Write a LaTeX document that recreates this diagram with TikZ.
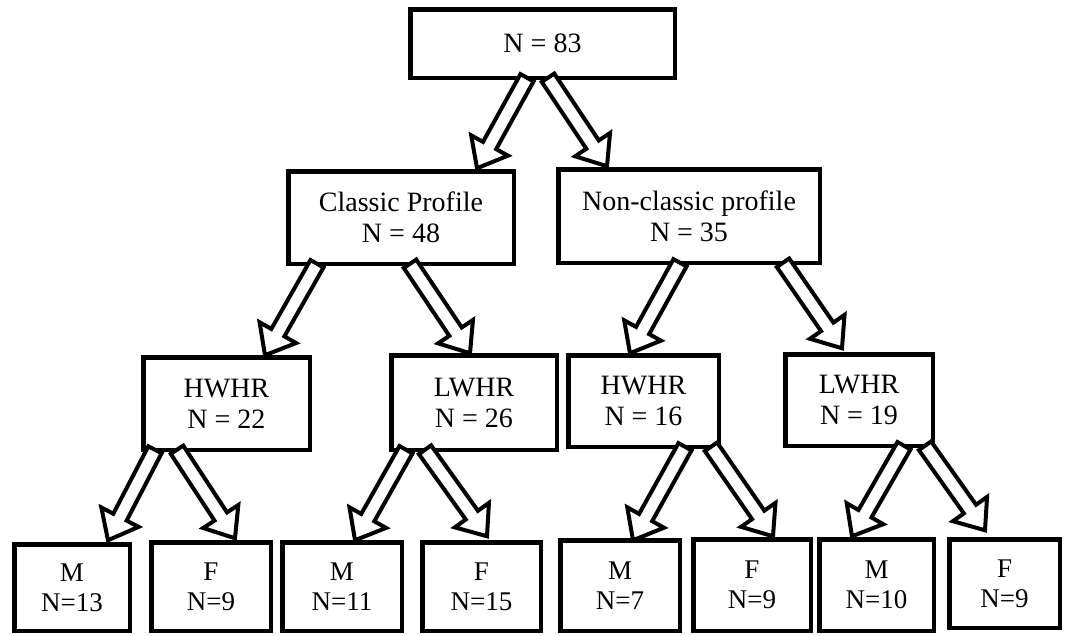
\documentclass[tikz,border=0pt]{standalone}
\usepackage{fontspec}
\setmainfont{Liberation Serif}
\usetikzlibrary{calc}
\tikzset{
  box/.style={draw, line width=4.5pt, rectangle, align=center, inner sep=0pt, outer sep=0pt,
    font=\fontsize{28}{31}\selectfont},
  leaf/.style={box, font=\fontsize{27}{30}\selectfont},
  blockarr/.style={draw, fill=white, line width=4pt, line join=miter},
}
\newcommand\blockarrow[2]{%
  \path[blockarr] let \p1=(#1), \p2=(#2), \n1={atan2(\y2-\y1,\x2-\x1)} in
    ($(\p1)+(\n1+90:7.5pt)$)
    -- ($(\p2)+(\n1+180:26pt)+(\n1+90:7.5pt)$)
    -- ($(\p2)+(\n1+180:26pt)+(\n1+90:21pt)$)
    -- (\p2)
    -- ($(\p2)+(\n1+180:26pt)+(\n1-90:21pt)$)
    -- ($(\p2)+(\n1+180:26pt)+(\n1-90:7.5pt)$)
    -- ($(\p1)+(\n1-90:7.5pt)$) -- cycle;}
\begin{document}
\begin{tikzpicture}[x=1pt,y=-1pt]
\useasboundingbox (0,0) rectangle (1069,635);
% level 0
\node[box, minimum width=264.5, minimum height=68.5] (top) at (542.5,43.5) {N = 83};
% level 1
\node[box, minimum width=225.5, minimum height=92.5] (classic) at (401,217.5) {Classic Profile\\N = 48};
\node[box, minimum width=261.5, minimum height=93.5] (nonc) at (689,216) {Non-classic profile\\N = 35};
% level 2
\node[box, minimum width=166.5, minimum height=92.5] (hwl) at (226.5,403.5) {HWHR\\N = 22};
\node[box, minimum width=165.5, minimum height=94.5] (lwl) at (474,402.5) {LWHR\\N = 26};
\node[box, minimum width=150.5, minimum height=91.5] (hwr) at (643.5,401) {HWHR\\N = 16};
\node[box, minimum width=147.5, minimum height=91.5] (lwr) at (859,400) {LWHR\\N = 19};
% level 3
\node[leaf, minimum width=115.5, minimum height=86.5] (m1) at (72,587.5) {M\\N=13};
\node[leaf, minimum width=119.5, minimum height=88.5] (f1) at (211,586.5) {F\\N=9};
\node[leaf, minimum width=119.5, minimum height=88.5] (m2) at (342,586.5) {M\\N=11};
\node[leaf, minimum width=118.5, minimum height=88.5] (f2) at (481.5,586.5) {F\\N=15};
\node[leaf, minimum width=119.5, minimum height=90.5] (m3) at (620,585.5) {M\\N=7};
\node[leaf, minimum width=117.5, minimum height=91.5] (f3) at (752,585) {F\\N=9};
\node[leaf, minimum width=114.5, minimum height=91.5] (m4) at (876.5,585) {M\\N=10};
\node[leaf, minimum width=110.5, minimum height=88.5] (f4) at (1004.5,583.5) {F\\N=9};
% arrow end points
\coordinate (a1s) at ([xshift=-15.5pt]top.south);
\coordinate (a1t) at ([xshift=76pt,yshift=3pt]classic.north);
\coordinate (a2s) at ([xshift=5.5pt]top.south);
\coordinate (a2t) at ([xshift=-82pt,yshift=3pt]nonc.north);
\coordinate (a3s) at ([xshift=-84pt]classic.south);
\coordinate (a3t) at ([xshift=38.5pt,yshift=2pt]hwl.north);
\coordinate (a4s) at ([xshift=9pt]classic.south);
\coordinate (a4t) at ([xshift=-4pt,yshift=2pt]lwl.north);
\coordinate (a5s) at ([xshift=-9pt]nonc.south);
\coordinate (a5t) at ([xshift=-13.5pt,yshift=2pt]hwr.north);
\coordinate (a6s) at ([xshift=94pt]nonc.south);
\coordinate (a6t) at ([xshift=-17pt,yshift=6pt]lwr.north);
\coordinate (a7s) at ([xshift=-71.5pt]hwl.south);
\coordinate (a7t) at ([xshift=36pt,yshift=4pt]m1.north);
\coordinate (a8s) at ([xshift=-49.5pt]hwl.south);
\coordinate (a8t) at ([xshift=24pt,yshift=4pt]f1.north);
\coordinate (a9s) at ([xshift=-68pt]lwl.south);
\coordinate (a9t) at ([xshift=13pt,yshift=2pt]m2.north);
\coordinate (a10s) at ([xshift=-49pt]lwl.south);
\coordinate (a10t) at ([xshift=5.5pt,yshift=6pt]f2.north);
\coordinate (a11s) at ([xshift=41.5pt]hwr.south);
\coordinate (a11t) at ([xshift=13pt,yshift=0pt]m3.north);
\coordinate (a12s) at ([xshift=67.5pt]hwr.south);
\coordinate (a12t) at ([xshift=21pt,yshift=3pt]f3.north);
\coordinate (a13s) at ([xshift=45pt]lwr.south);
\coordinate (a13t) at ([xshift=-24.5pt,yshift=3pt]m4.north);
\coordinate (a14s) at ([xshift=66pt]lwr.south);
\coordinate (a14t) at ([xshift=-19.5pt,yshift=9pt]f4.north);
% arrows
\blockarrow{a1s}{a1t}
\blockarrow{a2s}{a2t}
\blockarrow{a3s}{a3t}
\blockarrow{a4s}{a4t}
\blockarrow{a5s}{a5t}
\blockarrow{a6s}{a6t}
\blockarrow{a7s}{a7t}
\blockarrow{a8s}{a8t}
\blockarrow{a9s}{a9t}
\blockarrow{a10s}{a10t}
\blockarrow{a11s}{a11t}
\blockarrow{a12s}{a12t}
\blockarrow{a13s}{a13t}
\blockarrow{a14s}{a14t}
\end{tikzpicture}
\end{document}
